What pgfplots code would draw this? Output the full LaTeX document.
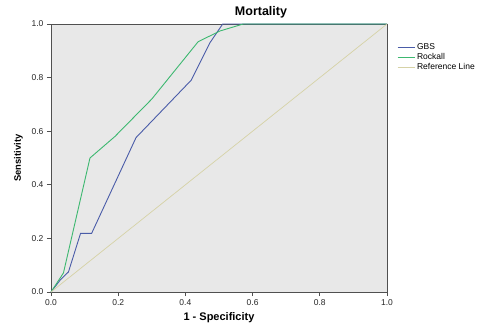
\documentclass[border=0pt]{standalone}
\usepackage{pgfplots}
\pgfplotsset{compat=1.18}
\usepackage{fontspec}
\setmainfont{Liberation Sans}
\definecolor{bgc}{HTML}{E8E8E8}
\definecolor{gbs}{HTML}{4A5CA8}
\definecolor{rock}{HTML}{3DB870}
\definecolor{refl}{HTML}{D6D2A6}
\definecolor{axc}{HTML}{505050}
\begin{document}
\begin{tikzpicture}
\useasboundingbox (-51pt,-33pt) rectangle (430pt,292pt);
\begin{axis}[
  at={(0,0)}, anchor=south west,
  scale only axis, width=336pt, height=268pt,
  xmin=0, xmax=1, ymin=0, ymax=1,
  xtick={0,0.2,...,1.0}, ytick={0,0.2,...,1.0},
  /pgf/number format/assume math mode=true,
  xticklabel style={/pgf/number format/.cd, fixed, fixed zerofill, precision=1},
  yticklabel style={/pgf/number format/.cd, fixed, fixed zerofill, precision=1},
  tick label style={font=\fontsize{8.5}{9}\selectfont, text=black!85},
  tick align=outside, major tick length=4pt,
  xtick pos=bottom, ytick pos=left,
  axis line style={axc, line width=0.8pt},
  tick style={axc, line width=0.7pt},
  axis background/.style={fill=bgc},
  title={\textbf{Mortality}},
  title style={at={(axis description cs:0.625,1)}, anchor=base, inner sep=0pt, yshift=3pt, font=\fontsize{12.5}{13}\selectfont},
  xlabel={\textbf{1 - Specificity}},
  xlabel style={at={(axis description cs:0.5,0)}, anchor=north, inner sep=0pt, yshift=-20pt, font=\fontsize{11}{12}\selectfont},
  ylabel={\textbf{Sensitivity}},
  ylabel style={at={(axis description cs:-0.083,0.5)}, anchor=south, inner sep=0pt, font=\fontsize{9.4}{10}\selectfont},
  legend style={draw=none, fill=none, at={(axis description cs:1,0.935)}, anchor=north west, xshift=10pt,
    font=\fontsize{8.5}{9}\selectfont, row sep=-1.8pt, inner sep=0pt, cells={anchor=west}},
  legend cell align=left,
  legend image code/.code={\draw[#1] (0pt,0pt) -- (17pt,0pt);},
  clip=false,
]
\addplot[gbs, line width=0.9pt] coordinates {
  (0,0) (0.027,0.044) (0.052,0.075) (0.088,0.219) (0.121,0.219)
  (0.253,0.576) (0.417,0.79) (0.473,0.93) (0.511,1.0) (1,1)};
\addlegendentry{GBS}
\addplot[rock, line width=0.9pt] coordinates {
  (0,0) (0.037,0.071) (0.116,0.5) (0.19,0.58) (0.30,0.72)
  (0.438,0.934) (0.503,0.974) (0.572,1.0) (1,1)};
\addlegendentry{Rockall}
\addplot[refl, line width=0.7pt] coordinates {(0,0) (1,1)};
\addlegendentry{Reference Line}
\end{axis}
\end{tikzpicture}
\end{document}
